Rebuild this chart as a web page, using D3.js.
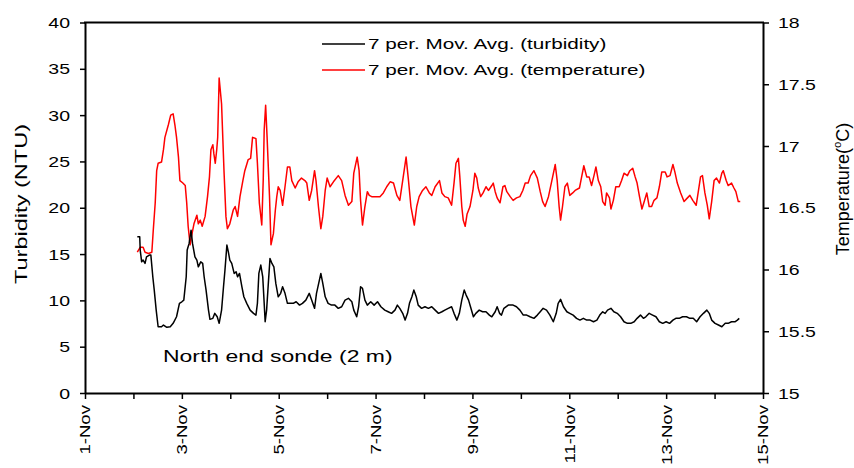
<!DOCTYPE html>
<html><head><meta charset="utf-8">
<script src="https://cdn.jsdelivr.net/npm/d3@7"></script>
<style>
body{margin:0;background:#fff}
svg text{font-family:Arial,"Liberation Sans",sans-serif;fill:#000}
</style>
</head><body>
<svg id="chart" width="854" height="468"></svg>
<script>
// ---------- data ----------
const dayTicks = [1,2,3,4,5,6,7,8,9,10,11,12,13,14,15];
const leftTicks = [0,5,10,15,20,25,30,35,40];
const rightTicks = [15,15.5,16,16.5,17,17.5,18];
const legendLabels = ["7 per. Mov. Avg. (turbidity)", "7 per. Mov. Avg. (temperature)"];
const seriesColors = ["#000000", "#ff0000"];
const annotation = "North end sonde (2 m)";
const leftTitle = "Turbidity (NTU)";

// time in fractional day of November
const turbDays = [2.08,2.13,2.14,2.17,2.20,2.24,2.27,2.33,2.36,2.40,2.43,2.47,2.51,2.58,2.62,2.69,2.76,2.82,2.89,2.95,
3.00,3.04,3.09,3.11,3.15,3.19,3.22,3.27,3.31,3.34,3.39,3.43,3.46,3.50,3.55,3.58,3.64,3.68,3.73,3.77,
3.82,3.86,3.89,3.93,3.96,3.99,4.03,4.08,4.12,4.15,4.19,4.24,4.28,4.34,4.41,4.48,4.53,4.56,4.59,4.63,
4.67,4.70,4.72,4.75,4.79,4.82,4.86,4.90,4.94,4.99,5.04,5.08,5.13,5.18,5.23,5.30,5.36,5.43,5.49,5.56,
5.63,5.68,5.74,5.78,5.84,5.87,5.91,5.96,6.02,6.09,6.16,6.23,6.30,6.37,6.44,6.51,6.55,6.61,6.65,6.69,
6.73,6.78,6.83,6.90,6.97,7.04,7.11,7.19,7.26,7.33,7.40,7.45,7.50,7.56,7.61,7.66,7.70,7.75,7.79,7.84,
7.88,7.95,8.02,8.09,8.16,8.23,8.30,8.37,8.43,8.50,8.57,8.62,8.68,8.73,8.78,8.83,8.87,8.92,8.96,9.02,
9.07,9.14,9.21,9.28,9.35,9.40,9.47,9.51,9.56,9.60,9.65,9.74,9.84,9.91,9.98,10.05,10.12,10.19,10.27,10.34,
10.40,10.46,10.53,10.60,10.67,10.73,10.77,10.82,10.88,10.95,11.01,11.08,11.15,11.22,11.29,11.36,11.43,11.50,11.57,11.63,
11.69,11.74,11.79,11.86,11.92,11.99,12.06,12.13,12.20,12.27,12.34,12.40,12.47,12.53,12.58,12.65,12.72,12.79,12.86,12.93,
13.00,13.07,13.14,13.20,13.27,13.34,13.42,13.49,13.56,13.63,13.70,13.77,13.84,13.89,13.94,14.01,14.08,14.15,14.22,14.28,
14.35,14.42,14.47,14.51];
const turbValues = [16.86,16.86,15.43,14.16,14.35,13.99,14.70,14.89,14.89,12.55,11.11,8.95,7.15,7.15,7.34,7.09,7.15,7.52,8.23,9.68,
9.85,10.03,12.55,15.43,16.15,17.58,16.15,14.70,14.35,13.62,14.16,13.99,12.55,11.11,8.95,7.95,8.06,8.60,8.23,7.52,
8.95,11.47,13.27,15.97,15.24,14.35,13.99,12.91,13.09,12.55,12.91,11.47,10.39,9.68,8.95,8.60,8.41,9.68,12.91,13.81,
12.55,9.68,7.69,8.95,12.19,14.53,13.99,13.62,11.83,10.39,10.76,11.47,10.76,9.68,9.70,9.68,9.85,9.49,9.68,10.03,
10.76,10.03,9.14,10.76,12.19,12.91,11.83,10.39,9.68,9.49,9.49,9.14,9.31,10.03,10.22,9.85,8.95,8.23,9.31,11.47,
11.29,10.03,9.49,9.85,9.49,9.85,9.31,8.95,8.77,8.60,8.95,9.49,9.14,8.60,7.87,8.60,9.68,10.39,11.11,10.39,
9.49,9.14,9.31,9.14,9.31,8.95,8.60,8.77,8.95,9.14,9.31,8.60,7.87,8.60,10.03,11.11,10.57,10.03,9.31,8.23,
8.60,8.95,8.77,8.77,8.41,8.23,8.77,9.31,8.60,8.41,9.14,9.49,9.49,9.31,8.95,8.41,8.41,8.23,8.06,8.41,
8.77,9.14,8.95,8.41,7.69,8.60,9.68,10.11,9.31,8.77,8.60,8.41,8.06,7.87,8.06,7.87,7.87,7.69,7.87,8.41,
8.77,8.60,8.95,9.14,8.77,8.60,8.23,7.69,7.52,7.52,7.69,8.06,8.41,8.06,8.23,8.60,8.41,8.23,7.69,7.52,
7.69,7.52,7.87,8.06,8.06,8.23,8.23,8.06,8.06,7.69,8.23,8.60,8.95,8.60,7.87,7.52,7.34,7.15,7.52,7.52,
7.69,7.69,7.87,8.06];

const tempDays = [2.08,2.14,2.20,2.24,2.31,2.38,2.41,2.45,2.48,2.51,2.58,2.62,2.65,2.72,2.77,2.82,2.86,2.89,2.93,2.96,
3.02,3.07,3.10,3.13,3.17,3.20,3.25,3.31,3.34,3.38,3.42,3.48,3.53,3.57,3.60,3.64,3.66,3.69,3.72,3.74,
3.77,3.82,3.87,3.91,3.94,3.99,4.06,4.10,4.15,4.20,4.26,4.30,4.37,4.42,4.46,4.53,4.56,4.60,4.65,4.68,
4.70,4.73,4.76,4.81,4.84,4.89,4.93,4.96,4.99,5.03,5.08,5.13,5.18,5.23,5.27,5.34,5.40,5.47,5.54,5.58,
5.63,5.68,5.74,5.77,5.82,5.87,5.91,5.96,6.00,6.06,6.13,6.23,6.30,6.37,6.44,6.51,6.55,6.62,6.66,6.69,
6.73,6.78,6.83,6.87,6.92,6.99,7.09,7.16,7.23,7.30,7.37,7.44,7.50,7.56,7.63,7.68,7.73,7.80,7.85,7.90,
7.97,8.04,8.11,8.16,8.23,8.32,8.37,8.43,8.50,8.57,8.62,8.66,8.71,8.74,8.78,8.81,8.85,8.89,8.95,9.01,
9.05,9.09,9.12,9.17,9.22,9.28,9.33,9.40,9.43,9.47,9.51,9.57,9.63,9.67,9.71,9.78,9.84,9.91,9.98,10.04,
10.09,10.15,10.20,10.27,10.34,10.40,10.45,10.50,10.57,10.64,10.71,10.75,10.79,10.82,10.86,10.91,10.96,11.01,11.07,11.12,
11.21,11.25,11.30,11.36,11.41,11.46,11.51,11.55,11.60,11.65,11.69,11.74,11.77,11.83,11.86,11.91,11.96,12.03,12.08,12.13,
12.20,12.25,12.31,12.36,12.40,12.45,12.50,12.54,12.60,12.65,12.70,12.75,12.81,12.86,12.91,12.98,13.02,13.08,13.14,13.18,
13.23,13.30,13.37,13.44,13.49,13.55,13.62,13.66,13.71,13.75,13.80,13.85,13.89,13.94,13.99,14.04,14.10,14.15,14.18,14.24,
14.28,14.35,14.40,14.44,14.49,14.53];
const tempValues = [16.14,16.18,16.18,16.14,16.13,16.14,16.32,16.54,16.80,16.86,16.87,16.97,17.07,17.17,17.25,17.26,17.16,17.07,16.91,16.72,
16.70,16.68,16.54,16.35,16.20,16.27,16.37,16.44,16.37,16.40,16.35,16.43,16.59,16.75,16.97,17.01,16.94,16.86,16.97,17.07,
17.55,17.34,16.80,16.43,16.33,16.37,16.48,16.51,16.43,16.59,16.72,16.80,16.89,16.90,17.07,17.06,16.86,16.54,16.36,16.72,
17.13,17.33,17.07,16.59,16.20,16.29,16.48,16.59,16.67,16.64,16.52,16.67,16.83,16.83,16.72,16.66,16.71,16.74,16.72,16.70,
16.56,16.64,16.80,16.72,16.51,16.33,16.43,16.64,16.74,16.67,16.71,16.76,16.72,16.60,16.52,16.55,16.78,16.91,16.80,16.56,
16.36,16.51,16.63,16.60,16.59,16.59,16.59,16.62,16.67,16.71,16.70,16.60,16.56,16.72,16.91,16.72,16.51,16.36,16.51,16.59,
16.64,16.67,16.62,16.60,16.67,16.72,16.62,16.59,16.58,16.52,16.70,16.86,16.90,16.75,16.51,16.40,16.35,16.45,16.51,16.64,
16.78,16.74,16.66,16.59,16.62,16.67,16.64,16.68,16.70,16.63,16.58,16.54,16.67,16.68,16.63,16.59,16.56,16.58,16.59,16.64,
16.70,16.70,16.76,16.80,16.74,16.63,16.55,16.51,16.59,16.72,16.85,16.72,16.51,16.40,16.51,16.67,16.70,16.60,16.62,16.64,
16.66,16.74,16.84,16.75,16.75,16.68,16.76,16.83,16.72,16.67,16.55,16.52,16.62,16.58,16.49,16.56,16.67,16.67,16.72,16.78,
16.76,16.80,16.82,16.75,16.70,16.59,16.49,16.54,16.62,16.51,16.51,16.56,16.58,16.67,16.79,16.79,16.75,16.76,16.85,16.79,
16.70,16.62,16.55,16.58,16.60,16.56,16.52,16.62,16.75,16.76,16.62,16.52,16.41,16.55,16.72,16.74,16.70,16.78,16.80,16.72,
16.68,16.70,16.66,16.63,16.55,16.55];

// ---------- chart ----------
const svg = d3.select("#chart");
const M = {left: 85, right: 763, top: 22.5, bottom: 393};
const DAY = 864e5;
const toDate = d => new Date(Date.UTC(2007, 10, 1) + (d - 1) * DAY);

const x = d3.scaleUtc().domain([toDate(dayTicks[0]), toDate(dayTicks[dayTicks.length-1])]).range([M.left, M.right]);
const yL = d3.scaleLinear().domain([0, 40]).range([M.bottom, M.top]);
const yR = d3.scaleLinear().domain([15, 18]).range([M.bottom, M.top]);

const fmt = d3.utcFormat("%-d-%b");

// lines
const turb = turbDays.map((d, i) => [toDate(d), turbValues[i]]);
const temp = tempDays.map((d, i) => [toDate(d), tempValues[i]]);
svg.append("path").datum(temp)
  .attr("fill", "none").attr("stroke", seriesColors[1]).attr("stroke-width", 1.5).attr("stroke-linejoin", "round")
  .attr("d", d3.line().x(d => x(d[0])).y(d => yR(d[1])));
svg.append("path").datum(turb)
  .attr("fill", "none").attr("stroke", seriesColors[0]).attr("stroke-width", 1.5).attr("stroke-linejoin", "round")
  .attr("d", d3.line().x(d => x(d[0])).y(d => yL(d[1])));

// axes
const gB = svg.append("g").attr("transform", `translate(0,${M.bottom})`)
  .call(d3.axisBottom(x).tickValues(dayTicks.map(toDate)).tickSize(6).tickSizeOuter(0)
    .tickFormat((d, i) => (dayTicks[i] % 2 === 1 ? fmt(d) : "")));
gB.selectAll("text").attr("y", null).attr("dy", null)
  .attr("font-size", 15.5)
  .attr("text-anchor", "end").attr("dominant-baseline", "central")
  .attr("transform", "translate(0,12) rotate(-90) scale(1.2,1)");

const gL = svg.append("g").attr("transform", `translate(${M.left},0)`)
  .call(d3.axisLeft(yL).tickValues(leftTicks).tickSize(5).tickSizeOuter(0).tickFormat(d3.format("d")));
gL.selectAll("text").attr("x", null).attr("dy", null)
  .attr("font-size", 15).attr("dominant-baseline", "central")
  .attr("transform", "translate(-15,0) scale(1.3,1)");

const gR = svg.append("g").attr("transform", `translate(${M.right},0)`)
  .call(d3.axisRight(yR).tickValues(rightTicks).tickSize(6).tickSizeOuter(0).tickFormat(d => String(d)));
gR.selectAll("text").attr("x", null).attr("dy", null)
  .attr("font-size", 15).attr("dominant-baseline", "central")
  .attr("transform", "translate(15,0) scale(1.3,1)");

[gB, gL, gR].forEach(g => {
  g.select(".domain").attr("stroke", "#000").attr("stroke-width", 2);
  g.selectAll(".tick line").attr("stroke", "#000").attr("stroke-width", 1.5);
  g.selectAll("text").attr("fill", "#000").style("font-family", "Arial, 'Liberation Sans', sans-serif");
});

// top frame
svg.append("line").attr("x1", M.left - 1).attr("x2", M.right + 1).attr("y1", M.top).attr("y2", M.top)
  .attr("stroke", "#000").attr("stroke-width", 2);

// axis titles
svg.append("text").attr("font-size", 16.5).attr("text-anchor", "middle").attr("dominant-baseline", "central")
  .attr("transform", "translate(21,204) rotate(-90) scale(1.43,1)").text(leftTitle);

const rt = svg.append("text").attr("font-size", 17.5).attr("text-anchor", "middle").attr("dominant-baseline", "central")
  .attr("transform", "translate(843,189) rotate(-90) scale(1.03,1)");
rt.append("tspan").text("Temperature(");
rt.append("tspan").attr("font-size", 11).attr("baseline-shift", "super").text("o");
rt.append("tspan").text("C)");

// legend
legendLabels.forEach((lab, i) => {
  const yy = 44 + i * 26;
  svg.append("line").attr("x1", 322).attr("x2", 365).attr("y1", yy).attr("y2", yy)
    .attr("stroke", seriesColors[i]).attr("stroke-width", 1.5);
  svg.append("text").attr("font-size", 15).attr("dominant-baseline", "central")
    .attr("transform", `translate(368,${yy}) scale(1.38,1)`).text(lab);
});

// annotation
svg.append("text").attr("font-size", 17).attr("dominant-baseline", "central")
  .attr("transform", "translate(163,356) scale(1.35,1)").text(annotation);
</script>
</body></html>
